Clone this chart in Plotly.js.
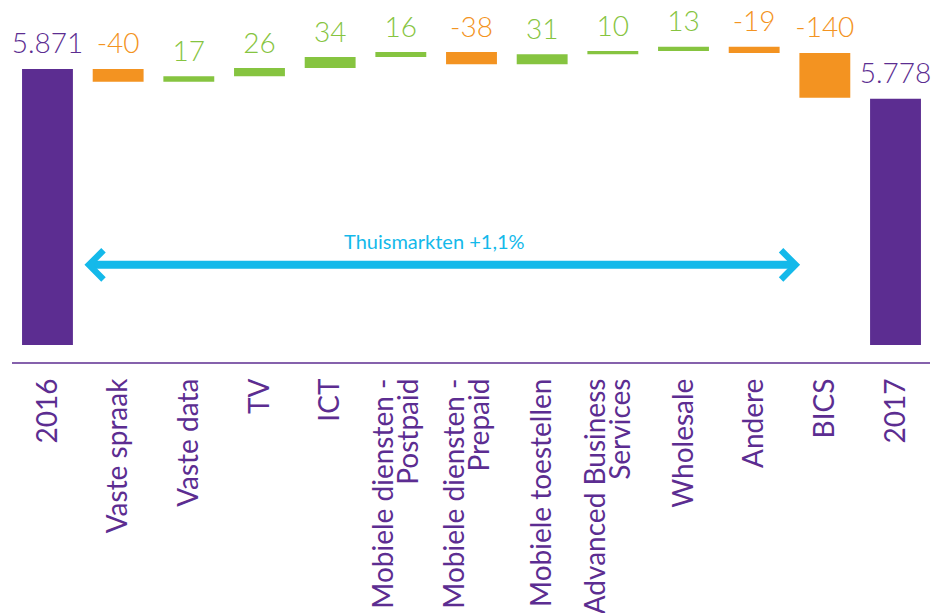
<!DOCTYPE html>
<html><head><meta charset="utf-8">
<script src="https://cdn.plot.ly/plotly-3.0.1.min.js"></script>
<style>html,body{margin:0;padding:0;background:#fff}</style>
</head><body><div id="chart" style="width:934px;height:613px"></div>
<script>
const categories = ["2016", "Vaste spraak", "Vaste data", "TV", "ICT",
  "Mobiele diensten -<br>Postpaid", "Mobiele diensten -<br>Prepaid",
  "Mobiele toestellen", "Advanced Business<br>Services", "Wholesale",
  "Andere", "BICS", "2017"];
const values = [5871, -40, 17, 26, 34, 16, -38, 31, 10, 13, -19, -140, 5778];
const measures = ["absolute", "relative", "relative", "relative", "relative",
  "relative", "relative", "relative", "relative", "relative", "relative",
  "relative", "absolute"];
const valueLabels = ["5.871", "-40", "17", "26", "34", "16", "-38", "31",
  "10", "13", "-19", "-140", "5.778"];
const arrowLabel = "Thuismarkten +1,1%";

const PURPLE = "#5C2D91", ORANGE = "#F39321", GREEN = "#86C440", CYAN = "#14B9EA";
const FONT = "Lato, 'Open Sans', sans-serif";

const idx = categories.map((_, i) => i);

// label positions: top of each bar
let cum = 0;
const tops = [], labelColors = [];
values.forEach((v, i) => {
  if (measures[i] === "absolute") {
    cum = v; tops.push(v); labelColors.push(PURPLE);
  } else {
    const prev = cum; cum += v;
    tops.push(Math.max(prev, cum));
    labelColors.push(v < 0 ? ORANGE : GREEN);
  }
});

// tick labels: one tick per text line so multi-line labels can sit close together
const LINE_STEP = 0.354, BLOCK_SHIFT = -0.06;
const tickvals = [], ticktext = [];
categories.forEach((c, i) => {
  const lines = c.split("<br>");
  const n = lines.length;
  lines.forEach((ln, k) => {
    const off = n > 1 ? (k - (n - 1) / 2) * LINE_STEP + BLOCK_SHIFT : 0;
    tickvals.push(i + off);
    ticktext.push(ln);
  });
});

const waterfall = {
  type: "waterfall",
  x: idx,
  y: values,
  measure: measures,
  connector: {visible: false},
  increasing: {marker: {color: GREEN}},
  decreasing: {marker: {color: ORANGE}},
  totals: {marker: {color: PURPLE}},
  hoverinfo: "y",
  showlegend: false
};

const labels = {
  type: "scatter",
  mode: "text+markers",
  x: idx,
  y: tops,
  marker: {size: 12, opacity: 0},
  text: valueLabels,
  textposition: "top center",
  textfont: {family: FONT, size: 28, weight: 300, color: labelColors},
  hoverinfo: "skip",
  showlegend: false,
  cliponaxis: false
};

const layout = {
  width: 934, height: 613,
  margin: {l: 12, r: 4, t: 10, b: 268},
  paper_bgcolor: "#fff", plot_bgcolor: "#fff",
  waterfallgap: 0.28,
  font: {family: FONT, color: PURPLE},
  xaxis: {
    range: [-0.502, 12.488],
    showgrid: false, zeroline: false, showline: false,
    ticks: "",
    tickmode: "array", tickvals: tickvals, ticktext: ticktext,
    tickangle: -90,
    ticklabelstandoff: 27,
    tickfont: {family: FONT, size: 28, color: PURPLE},
    fixedrange: true
  },
  yaxis: {
    range: [5010, 6055],
    visible: false,
    showgrid: false, zeroline: false,
    fixedrange: true
  },
  shapes: [{
    type: "line", xref: "paper", yref: "paper",
    x0: 0, x1: 1, y0: -0.0537, y1: -0.0537,
    line: {color: PURPLE, width: 1.3}
  }],
  annotations: [
    {
      x: 10.65, y: 5260, ax: 0.502, ay: 5260,
      xref: "x", yref: "y", axref: "x", ayref: "y",
      showarrow: true, arrowside: "end+start",
      arrowhead: 4, startarrowhead: 4,
      arrowsize: 0.7, startarrowsize: 0.7,
      arrowwidth: 8, arrowcolor: CYAN,
      standoff: 0, startstandoff: 0,
      text: ""
    },
    {
      x: 5.476, y: 5334, xref: "x", yref: "y",
      showarrow: false, text: arrowLabel,
      font: {family: FONT, size: 20, color: CYAN}
    }
  ]
};

Plotly.newPlot("chart", [waterfall, labels], layout, {displayModeBar: false, staticPlot: true});
</script>
</body></html>
